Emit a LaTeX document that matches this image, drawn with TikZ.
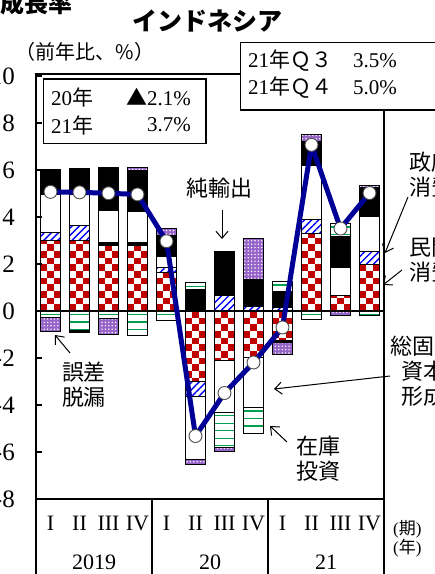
\documentclass[tikz,border=0pt]{standalone}
\usepackage{fontspec}
\setmainfont{Liberation Serif}
\newfontfamily\jp{Noto Sans CJK JP}
\usetikzlibrary{patterns.meta,arrows.meta}
\definecolor{chkred}{RGB}{192,0,0}
\definecolor{hblue}{RGB}{0,0,255}
\definecolor{igreen}{RGB}{0,160,80}
\definecolor{dpurple}{RGB}{150,100,200}
\definecolor{navy}{RGB}{0,0,150}
\newcommand\J[1]{{\jp #1}}
\newcommand\bx[3]{(40.5+29*#1,{311-23.5*(#2)}) rectangle (60.5+29*#1,{311-23.5*(#3)})}
\newcommand\segK[3]{\filldraw[segline,fill=black] \bx{#1}{#2}{#3};}
\newcommand\segW[3]{\filldraw[segline,fill=white] \bx{#1}{#2}{#3};}
\newcommand\segB[3]{\fill[white] \bx{#1}{#2}{#3};
  \fill[pattern={Lines[angle=45,distance=5pt,line width=1.4pt]},pattern color=hblue] \bx{#1}{#2}{#3};
  \draw[segline] \bx{#1}{#2}{#3};}
\newcommand\segP[3]{\fill[dpurple] \bx{#1}{#2}{#3};
  \fill[pattern={Dots[distance=3.4pt,radius=0.8pt]},pattern color=white] \bx{#1}{#2}{#3};
  \draw[segline] \bx{#1}{#2}{#3};}
\newcommand\segG[3]{\fill[white] \bx{#1}{#2}{#3};
  \begin{scope}\clip \bx{#1}{#2}{#3};
  \pgfmathsetmacro\gtop{311-23.5*max(#2,#3)}
  \foreach \n in {0,...,9} \draw[igreen,line width=1.3pt] ({40.5+29*#1},{\gtop+3.5+7.5*\n}) -- ++(20,0);
  \end{scope}
  \draw[segline] \bx{#1}{#2}{#3};}
\newcommand\segR[3]{\begin{scope}\clip \bx{#1}{#2}{#3};
  \fill[white] \bx{#1}{#2}{#3};
  \foreach \k in {-12,...,12}{\foreach \c in {0,1,2}{%
    \pgfmathtruncatemacro\pp{mod(\k+\c+24,2)}%
    \ifnum\pp=0 \fill[chkred] ({40.5+29*#1+6.6667*\c},{311-6.6667*\k}) rectangle ++(6.6667,-6.6667);\fi}}
  \end{scope}
  \draw[segline] \bx{#1}{#2}{#3};}
\tikzset{
  segline/.style={draw=black,line width=1pt},
  frameln/.style={line width=2.6pt},
  divln/.style={line width=1.6pt},
  growth/.style={draw=navy,line width=5pt,line join=round},
  circ/.style={circle,minimum size=13pt,inner sep=0pt,fill=white,draw=black!70,line width=0.9pt},
  arr/.style={line width=1pt,-{Straight Barb[length=7pt,width=12pt]}},
  boxst/.style={draw,line width=1.6pt,fill=white,inner sep=0pt},
  lbl/.style={font=\fontsize{22}{25}\selectfont\jp,align=center,inner sep=0pt},
  bxt/.style={font=\fontsize{21}{25}\selectfont,inner sep=0pt},
  ytk/.style={font=\fontsize{25}{25}\selectfont,anchor=east,inner sep=0pt},
  cat/.style={font=\fontsize{22}{22}\selectfont,inner sep=0pt},
}
\begin{document}
\begin{tikzpicture}[x=1pt,y=-1pt]
\useasboundingbox (0,0) rectangle (435,574);
\clip (0,0) rectangle (435,574);
\fill[white] (0,0) rectangle (435,574);
% bars
\segR{0}{0}{2.98}\segB{0}{2.98}{3.33}\segW{0}{3.33}{4.95}\segK{0}{4.95}{6.04}\segG{0}{0}{-0.27}\segP{0}{-0.27}{-0.88}
\segR{1}{0}{2.98}\segB{1}{2.98}{3.62}\segW{1}{3.62}{4.95}\segK{1}{4.95}{6.08}\segG{1}{0}{-0.84}\segK{1}{-0.84}{-0.92}
\segR{2}{0}{2.8}\segK{2}{2.8}{2.92}\segW{2}{2.92}{4.27}\segK{2}{4.27}{6.11}\segG{2}{0}{-0.3}\segP{2}{-0.3}{-0.98}
\segR{3}{0}{2.8}\segK{3}{2.8}{2.9}\segW{3}{2.9}{4.25}\segK{3}{4.25}{6.0}\segP{3}{6.0}{6.12}\segG{3}{0}{-1.05}
\segR{4}{0}{1.62}\segB{4}{1.62}{1.85}\segW{4}{1.85}{2.3}\segK{4}{2.3}{3.2}\segP{4}{3.2}{3.5}\segG{4}{0}{-0.41}
\segK{5}{0}{0.9}\segG{5}{0.9}{1.2}\segR{5}{0}{-3.02}\segB{5}{-3.02}{-3.62}\segW{5}{-3.62}{-6.3}\segP{5}{-6.3}{-6.52}
\segB{6}{0}{0.68}\segK{6}{0.68}{2.55}\segR{6}{0}{-2.11}\segW{6}{-2.11}{-4.31}\segG{6}{-4.31}{-5.82}\segP{6}{-5.82}{-5.99}
\segB{7}{0}{0.18}\segK{7}{0.18}{1.35}\segP{7}{1.35}{3.1}\segR{7}{0}{-1.97}\segW{7}{-1.97}{-4.11}\segG{7}{-4.11}{-5.23}
\segB{8}{0}{0.15}\segK{8}{0.15}{0.85}\segG{8}{0.85}{1.25}\segR{8}{0}{-1.25}\segK{8}{-1.25}{-1.32}\segP{8}{-1.32}{-1.87}
\segR{9}{0}{3.3}\segB{9}{3.3}{3.9}\segW{9}{3.9}{6.18}\segK{9}{6.18}{7.2}\segP{9}{7.2}{7.53}\segG{9}{0}{-0.35}
\segR{10}{0}{0.68}\segW{10}{0.68}{1.86}\segK{10}{1.86}{3.19}\segG{10}{3.19}{3.73}\segP{10}{0}{-0.17}
\segR{11}{0}{1.96}\segB{11}{1.96}{2.52}\segW{11}{2.52}{4.04}\segK{11}{4.04}{5.26}\segP{11}{5.26}{5.33}\segG{11}{0}{-0.17}
% zero line
\draw[line width=1.5pt] (36,311) -- (384,311);
% growth line
\foreach \i/\v in {1/5.07,2/5.05,3/5.01,4/4.96,5/2.97,6/-5.32,7/-3.49,8/-2.19,9/-0.70,10/7.07,11/3.51,12/5.02}
  \coordinate (p\i) at ({50.5+29*(\i-1)},{311-23.5*(\v)});
\draw[growth] (p1)--(p2)--(p3)--(p4)--(p5)--(p6)--(p7)--(p8)--(p9)--(p10)--(p11)--(p12);
\foreach \i in {1,...,12} \node[circ] (g\i) at (p\i) {};
% frame
\draw[frameln] (240.7,74) -- (36,74) -- (36,580);
\draw[frameln] (384,110) -- (384,580);
\draw[frameln] (36,499) -- (384,499);
\draw[divln] (152,499) -- (152,580);
\draw[divln] (268,499) -- (268,580);
\foreach \v in {10,8,...,-8}{
  \draw[line width=1.8pt] (36,{311-23.5*\v}) -- (42,{311-23.5*\v});
  \node[ytk] (yl\v) at (15,{311-23.5*\v}) {\v};
}
% boxes
\node[boxst,minimum width=162.7pt,minimum height=64.3pt] (box1) at (124.7,111.2) {};
\node[boxst,minimum width=209.3pt,minimum height=67.7pt] (box2) at (345.3,76.2) {};
\node[bxt,anchor=west] (b1a) at (51,97) {20\J{年}};
\node[bxt,anchor=east] (b1b) at (191,97) {\J{▲}2.1\%};
\node[bxt,anchor=west] (b1c) at (51,125) {21\J{年}};
\node[bxt,anchor=east] (b1d) at (191,125) {3.7\%};
\node[bxt,anchor=west] (b2a) at (248,61) {21\J{年Ｑ３}};
\node[bxt,anchor=west] (b2b) at (353,61) {3.5\%};
\node[bxt,anchor=west] (b2c) at (248,88) {21\J{年Ｑ４}};
\node[bxt,anchor=west] (b2d) at (353,88) {5.0\%};
% titles
\node[anchor=east,inner sep=0pt,font=\fontsize{24}{28}\selectfont\jp\bfseries] (ttl) at (73,3) {成長率};
\node[inner sep=0pt,font=\fontsize{25}{28}\selectfont\jp\bfseries] (country) at (207,21) {インドネシア};
\node[inner sep=0pt,font=\fontsize{20}{24}\selectfont\jp] (unit) at (85,52) {（前年比、\%）};
% category axis
\foreach \i/\rn in {0/I,1/II,2/III,3/IV,4/I,5/II,6/III,7/IV,8/I,9/II,10/III,11/IV}
  \node[cat] (q\i) at ({50.5+29*\i},523) {\rn};
\node[cat] (y19) at (94,562) {2019};
\node[cat] (y20) at (210,562) {20};
\node[cat] (y21) at (326,562) {21};
\node[anchor=west,inner sep=0pt,font=\fontsize{17}{17}\selectfont] (ki) at (393,529) {(\J{期})};
\node[anchor=west,inner sep=0pt,font=\fontsize{17}{17}\selectfont] (nen) at (393,548) {(\J{年})};
% annotations
\node[lbl] (lnx) at (219,188) {純輸出};
\node[lbl] (lerr) at (84,385) {誤差\\脱漏};
\node[lbl] (linv) at (318,459) {在庫\\投資};
\node[lbl] (lgf) at (423,371) {総固定\\資本\\形成};
\node[lbl,anchor=west] (lgov) at (409,175) {政府\\消費};
\node[lbl,anchor=west] (lpc) at (409,260.5) {民間\\消費};
\coordinate (nxs) at (222,210); \coordinate (nxe) at (222,239);
\coordinate (ers) at (70,353); \coordinate (ere) at (55,335);
\coordinate (ivs) at (287,442); \coordinate (ive) at (270,426);
\coordinate (gfs) at (390,376); \coordinate (gfe) at (274,389);
\coordinate (gvs) at (408,197); \coordinate (gve) at (385,253);
\coordinate (pcs) at (402,270); \coordinate (pce) at (383,285);
\draw[arr] (nxs) -- (nxe);
\draw[arr] (ers) -- (ere);
\draw[arr] (ivs) -- (ive);
\draw[arr] (gfs) -- (gfe);
\draw[arr] (gvs) -- (gve);
\draw[arr] (pcs) -- (pce);
\end{tikzpicture}
\end{document}
